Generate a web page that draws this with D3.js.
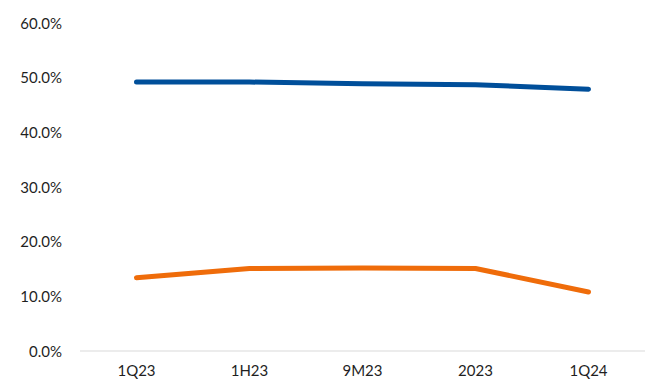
<!DOCTYPE html>
<html>
<head>
<meta charset="utf-8">
<script src="https://cdn.jsdelivr.net/npm/d3@7"></script>
<style>
  html, body { margin: 0; padding: 0; background: #fff; }
  svg text { font-family: Lato, "Open Sans", sans-serif; font-size: 15px; fill: #1f1f1f; }
</style>
</head>
<body>
<svg id="chart" width="656" height="383"></svg>
<script>
// Periods on the x axis
const periods = ["1Q23", "1H23", "9M23", "2023", "1Q24"];
// Two ratio series, in percent
const seriesBlue = [49.2, 49.2, 48.9, 48.7, 47.9];
const seriesOrange = [13.4, 15.1, 15.2, 15.1, 10.8];
// Y axis tick values, in percent
const yTicks = [0, 10, 20, 30, 40, 50, 60];

const svg = d3.select("#chart");
const margin = { left: 80, right: 11, top: 23, bottom: 32 };
const W = 656, H = 383;

const x = d3.scaleBand().domain(periods).range([margin.left, W - margin.right]);
const y = d3.scaleLinear().domain([0, 60]).range([H - margin.bottom, margin.top]);

// Baseline
svg.append("line")
  .attr("x1", margin.left).attr("x2", W - margin.right)
  .attr("y1", y(0)).attr("y2", y(0))
  .attr("stroke", "#d9d9d9").attr("stroke-width", 1.2);

// Y axis labels
const yAxis = d3.axisLeft(y).tickValues(yTicks)
  .tickFormat(d => d.toFixed(1) + "%").tickSize(0).tickPadding(18);
const gy = svg.append("g").attr("transform", `translate(${margin.left},0)`).call(yAxis);
gy.select(".domain").remove();
gy.selectAll("text").attr("dy", "0.35em");

// X axis labels
const xAxis = d3.axisBottom(x).tickSize(0).tickPadding(14);
const gx = svg.append("g").attr("transform", `translate(0,${y(0)})`).call(xAxis);
gx.select(".domain").remove();

const line = d3.line()
  .x((d, i) => x(periods[i]) + x.bandwidth() / 2)
  .y(d => y(d));

[[seriesBlue, "#004f9a"], [seriesOrange, "#ef6c0a"]].forEach(([vals, col]) => {
  svg.append("path")
    .datum(vals)
    .attr("d", line)
    .attr("fill", "none")
    .attr("stroke", col)
    .attr("stroke-width", 5)
    .attr("stroke-linecap", "round")
    .attr("stroke-linejoin", "round");
});
</script>
</body>
</html>
